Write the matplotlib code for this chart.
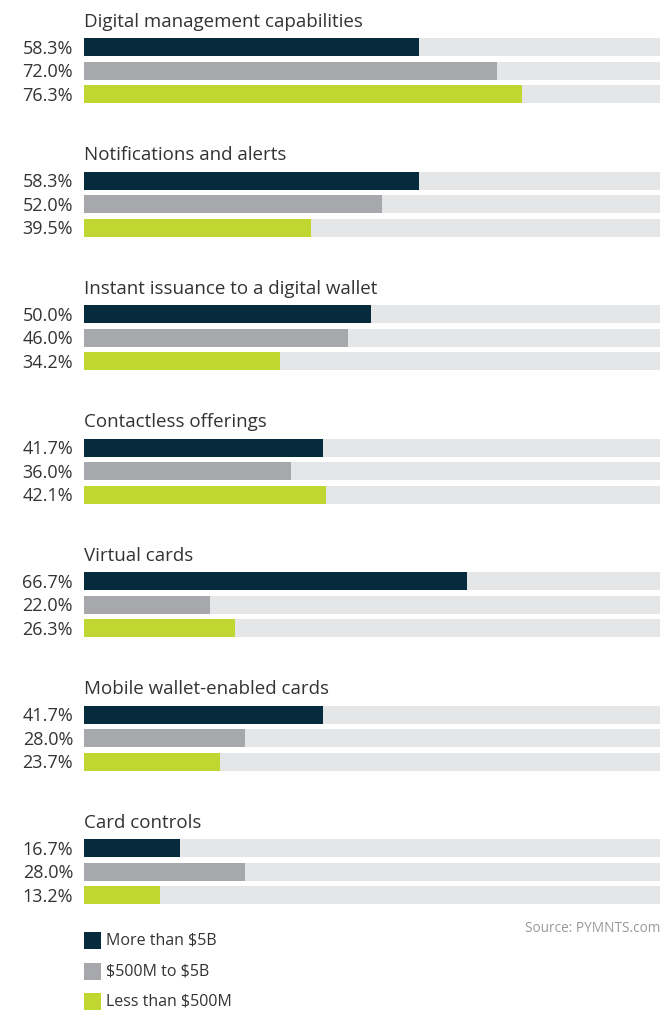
import matplotlib.pyplot as plt

# data
categories = ["Digital management capabilities", "Notifications and alerts",
              "Instant issuance to a digital wallet", "Contactless offerings",
              "Virtual cards", "Mobile wallet-enabled cards", "Card controls"]
more_5b = [58.3, 58.3, 50.0, 41.7, 66.7, 41.7, 16.7]
mid_5b = [72.0, 52.0, 46.0, 36.0, 22.0, 28.0, 28.0]
less_500m = [76.3, 39.5, 34.2, 42.1, 26.3, 23.7, 13.2]
series_names = ["More than $5B", "$500M to $5B", "Less than $500M"]
colors = ["#062b3d", "#a7a8ab", "#bfd730"]
bg = "#e5e6e8"
txt = "#333333"

plt.rcParams['font.family'] = ['Open Sans', 'DejaVu Sans']
plt.rcParams['text.parse_math'] = False

W, H = 660, 1013
fig = plt.figure(figsize=(W / 100, H / 100), dpi=100)
ax = fig.add_axes([84 / W, 0, 576 / W, 1])
xmax = 100.35
ax.set_xlim(0, xmax)
ax.set_ylim(H, 0)
ax.axis("off")

group_pitch = 133.5
bar_pitch = 23.5
bar_h = 18
first_bar = 47

series = [more_5b, mid_5b, less_500m]
for i, cat in enumerate(categories):
    y0 = first_bar + i * group_pitch
    ax.text(0, y0 - 20.5, cat, fontsize=13.5, color=txt, va="baseline", ha="left")
    for j, vals in enumerate(series):
        y = y0 + j * bar_pitch
        ax.barh(y, xmax, height=bar_h, color=bg, lw=0)
        ax.barh(y, vals[i], height=bar_h, color=colors[j], lw=0)
        ax.text(-1.9, y + 6.5, f"{vals[i]:.1f}%", fontsize=13, color=txt,
                va="baseline", ha="right", clip_on=False)

ax.text(xmax, 928, "Source: PYMNTS.com", fontsize=9.8, color="#999999",
        ha="right", va="center")

for j, name in enumerate(series_names):
    y = 940.5 + j * 30.5
    ax.barh(y, 2.9, height=17, color=colors[j], lw=0)
    ax.text(3.9, y, name, fontsize=11.5, color=txt, va="center", ha="left")

fig.savefig("out.png", dpi=100)
